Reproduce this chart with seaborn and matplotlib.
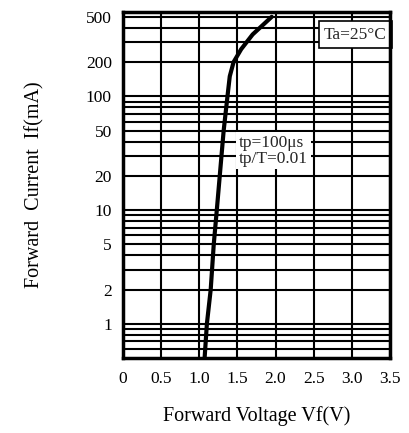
import matplotlib
matplotlib.use("Agg")
import matplotlib.pyplot as plt
import seaborn as sns
import pandas as pd
from matplotlib.ticker import FixedLocator, NullFormatter

# Data
vf = [1.07, 1.10, 1.15, 1.19, 1.23, 1.32, 1.37, 1.40, 1.45, 1.55, 1.70, 1.95]
if_ma = [0.5, 1, 2, 5, 10, 50, 100, 150, 200, 260, 350, 500]
x_ticks = [0, 0.5, 1.0, 1.5, 2.0, 2.5, 3.0, 3.5]
x_labels = ["0", "0.5", "1.0", "1.5", "2.0", "2.5", "3.0", "3.5"]
y_ticks = [1, 2, 5, 10, 20, 50, 100, 200, 500]
y_labels = ["1", "2", "5", "10", "20", "50", "100", "200", "500"]
y_minor = [0.6, 0.7, 0.8, 0.9, 3, 4, 6, 7, 8, 9, 30, 40, 60, 70, 80, 90, 300, 400]

sns.set_style("white")
plt.rcParams['font.family'] = ['Liberation Serif', 'DejaVu Serif']

fig = plt.figure(figsize=(4.10, 4.33), dpi=100)
ax = fig.add_axes([0.300, 0.173, 0.651, 0.799])

df = pd.DataFrame({"Vf": vf, "If": if_ma})
sns.lineplot(data=df, x="Vf", y="If", ax=ax, color="black", linewidth=3.0, sort=False, zorder=5)

ax.set_yscale("log")
ax.set_xlim(0, 3.5)
ax.set_ylim(0.5, 550)
ax.set_xticks(x_ticks)
ax.set_xticklabels(x_labels)
ax.set_yticks(y_ticks)
ax.set_yticklabels(y_labels)
ax.yaxis.set_minor_locator(FixedLocator(y_minor))
ax.yaxis.set_minor_formatter(NullFormatter())
ax.grid(True, which="both", color="black", linewidth=1.5)
ax.tick_params(axis="both", which="both", length=0, labelsize=12.5, colors="black")
ax.tick_params(axis="x", pad=9)
ax.tick_params(axis="y", pad=8)
for s in ax.spines.values():
    s.set_color("black")
    s.set_linewidth(2.5)
    s.set_zorder(10)

ax.set_xlabel("Forward Voltage Vf(V)", fontsize=14.5, labelpad=14, color="black")
ax.set_ylabel("Forward  Current  If(mA)", fontsize=14.5, labelpad=30, color="black")

ax.text(3.46, 410, "Ta=25\u00b0C", fontsize=12.5, ha="right", va="top", zorder=8,
        bbox=dict(facecolor="white", edgecolor="black", linewidth=1.2, boxstyle="square,pad=0.3"))
ax.text(1.52, 46, "tp=100\u03bcs\ntp/T=0.01", fontsize=12.5, ha="left", va="top", zorder=8,
        linespacing=1.0,
        bbox=dict(facecolor="white", edgecolor="none", boxstyle="square,pad=0.15"))

fig.savefig("out.png", dpi=100)
